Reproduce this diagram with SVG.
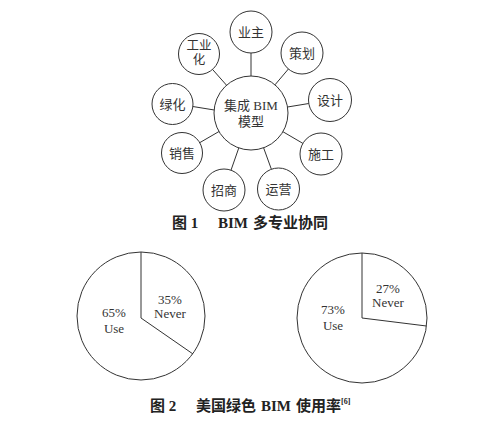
<svg xmlns="http://www.w3.org/2000/svg" width="504" height="422" viewBox="0 0 504 422">
<style>
.c{fill:#fff;stroke:#333;stroke-width:1}
.l{stroke:#333;stroke-width:1;fill:none}
.t{font-family:"Liberation Serif","Noto Sans CJK SC",serif;font-size:13px;fill:#333;text-anchor:middle}
.s{font-size:12.5px}
.cap{font-family:"Liberation Serif","Noto Sans CJK SC",serif;font-size:15px;font-weight:bold;fill:#222}
</style>
<rect width="504" height="422" fill="#fff"/>
<g id="connectors">
<line class="l" x1="251" y1="76" x2="251" y2="53"/>
<line class="l" x1="275" y1="84.8" x2="288.4" y2="69"/>
<line class="l" x1="287.5" y1="107" x2="308.8" y2="103.5"/>
<line class="l" x1="282.9" y1="131.7" x2="302.9" y2="143.4"/>
<line class="l" x1="263.6" y1="147.8" x2="271.4" y2="169.3"/>
<line class="l" x1="238.8" y1="147.9" x2="231" y2="170.2"/>
<line class="l" x1="219" y1="131.5" x2="199.7" y2="142.7"/>
<line class="l" x1="214.3" y1="110" x2="192.8" y2="106.5"/>
<line class="l" x1="226.5" y1="85.2" x2="212.5" y2="69.4"/>
</g>
<g id="center"><circle class="c" cx="251" cy="113" r="37"/><text class="t" x="251" y="110">集成 BIM</text><text class="t" x="251" y="126">模型</text></g>
<g id="yezhu"><circle class="c" cx="251" cy="32" r="21"/><text class="t" x="251" y="37">业主</text></g>
<g id="cehua"><circle class="c" cx="302" cy="53" r="21"/><text class="t" x="302" y="58">策划</text></g>
<g id="sheji"><circle class="c" cx="330" cy="100" r="21.5"/><text class="t" x="330" y="105">设计</text></g>
<g id="shigong"><circle class="c" cx="321" cy="154" r="21"/><text class="t" x="321" y="159">施工</text></g>
<g id="yunying"><circle class="c" cx="278.5" cy="189" r="21"/><text class="t" x="278.5" y="194">运营</text></g>
<g id="zhaoshang"><circle class="c" cx="224" cy="190" r="21"/><text class="t" x="224" y="195">招商</text></g>
<g id="xiaoshou"><circle class="c" cx="182" cy="153" r="20.5"/><text class="t" x="182" y="158">销售</text></g>
<g id="lvhua"><circle class="c" cx="172.5" cy="104" r="20.5"/><text class="t" x="172.5" y="109">绿化</text></g>
<g id="gongyehua"><circle class="c" cx="199" cy="54" r="20.5"/><text class="t s" x="199" y="49.5">工业</text><text class="t s" x="199" y="63.5">化</text></g>
<text class="cap" x="172" y="228">图 1</text>
<text class="cap" x="218" y="228">BIM<tspan x="253">多专业协同</tspan></text>
<g id="pie1">
<circle class="c" cx="141" cy="316" r="64"/>
<path class="l" d="M141 252 L141 318 L193 354"/>
<text class="t" x="170" y="304">35%</text><text class="t" x="170" y="318">Never</text>
<text class="t" x="114" y="317">65%</text><text class="t" x="114" y="333">Use</text>
</g>
<g id="pie2">
<circle class="c" cx="362" cy="318" r="65"/>
<path class="l" d="M362 253 L362 318 L426.5 326"/>
<text class="t" x="388" y="293">27%</text><text class="t" x="388" y="307">Never</text>
<text class="t" x="333" y="314">73%</text><text class="t" x="333" y="330">Use</text>
</g>
<text class="cap" x="150" y="410.5">图 2<tspan x="196">美国绿色</tspan><tspan x="261">BIM</tspan><tspan x="296">使用率</tspan><tspan x="341" y="404" font-size="8">[6]</tspan></text>
</svg>
